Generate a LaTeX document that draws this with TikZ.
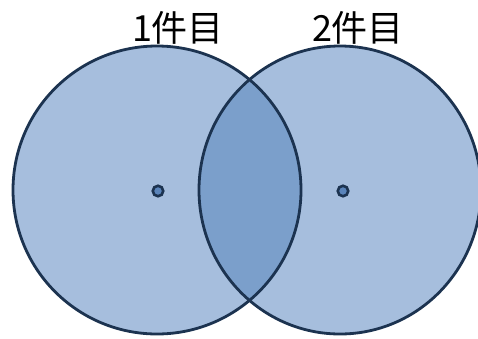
\documentclass[tikz,border=0pt]{standalone}
\usepackage{fontspec}
\newfontfamily\cjk{Noto Sans CJK JP}
\definecolor{fillA}{HTML}{A6BEDD}
\definecolor{fillLens}{HTML}{7B9FCB}
\definecolor{edge}{HTML}{1C3350}
\definecolor{dotfill}{HTML}{5A84BA}
\begin{document}
\begin{tikzpicture}[x=1pt,y=-1pt,
  ring/.style={draw=edge,line width=2.8pt},
  centredot/.style={circle,draw=edge,line width=2.6pt,fill=dotfill,minimum size=10.5pt,inner sep=0pt},
  title/.style={font=\cjk\fontsize{36}{38}\selectfont,inner sep=0pt,text=black}]
\useasboundingbox (0,0) rectangle (478,338);
\fill[white] (0,0) rectangle (478,338);
\begin{scope}
\clip (0,0) rectangle (478,338);
\fill[fillA] (157,190) circle[radius=144];
\fill[fillA] (340,190) ellipse[x radius=141,y radius=144];
\begin{scope}
\clip (157,190) circle[radius=144];
\fill[fillLens] (340,190) ellipse[x radius=141,y radius=144];
\end{scope}
\draw[ring] (157,190) circle[radius=144];
\draw[ring] (340,190) ellipse[x radius=141,y radius=144];
\end{scope}
\node[centredot] (d1) at (158,191) {};
\node[centredot] (d2) at (343,191) {};
\node[title,anchor=base] (t1) at (178,41) {1件目};
\node[title,anchor=base] (t2) at (358,41) {2件目};
\end{tikzpicture}
\end{document}
